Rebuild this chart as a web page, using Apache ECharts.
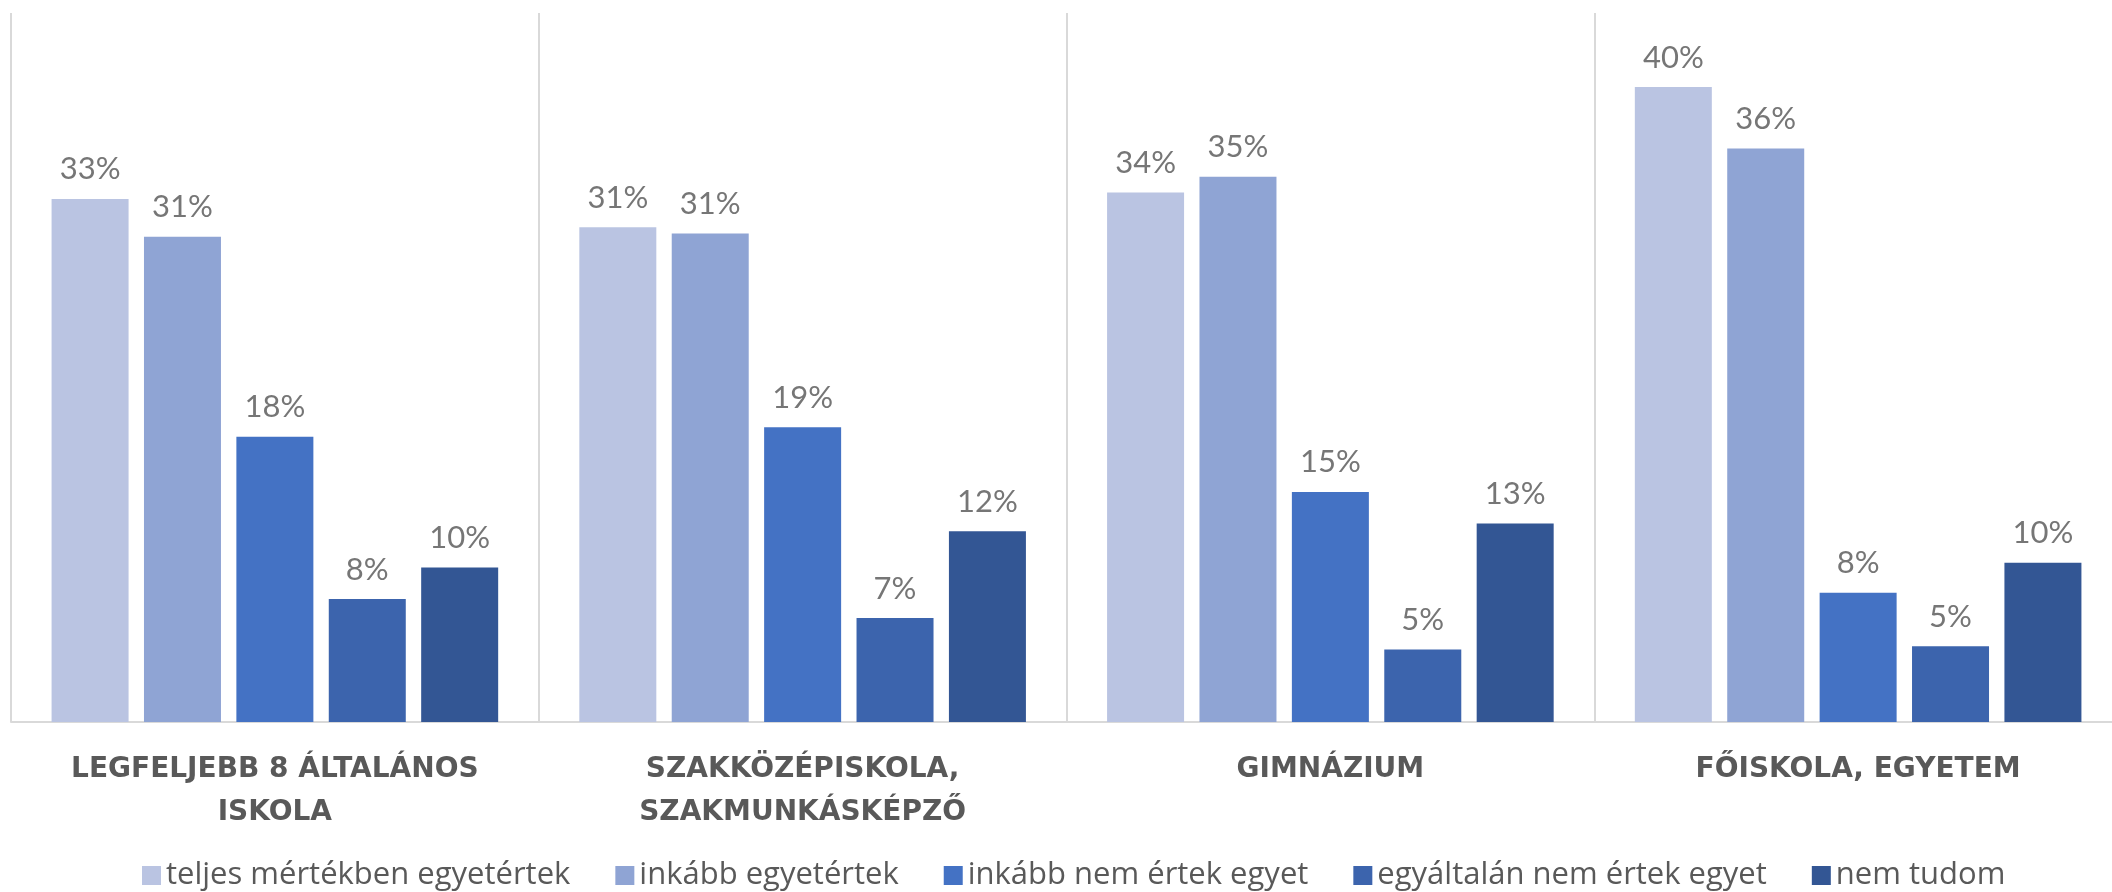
<!DOCTYPE html>
<html>
<head>
<meta charset="utf-8">
<script src="https://cdn.jsdelivr.net/npm/echarts@6.0.0/dist/echarts.min.js"></script>
<style>
  html, body { margin: 0; padding: 0; background: #fff; }
  #chart { width: 2112px; height: 892px; }
</style>
</head>
<body>
<div id="chart"></div>
<script>
// iskolai végzettség szerinti megoszlás (%)
const categories = ['LEGFELJEBB 8 ÁLTALÁNOS\nISKOLA', 'SZAKKÖZÉPISKOLA,\nSZAKMUNKÁSKÉPZŐ', 'GIMNÁZIUM', 'FŐISKOLA, EGYETEM']
const seriesNames = ['teljes mértékben egyetértek', 'inkább egyetértek', 'inkább nem értek egyet', 'egyáltalán nem értek egyet', 'nem tudom']
const teljesen = [33.2, 31.4, 33.6, 40.3]
const inkabb = [30.8, 31.0, 34.6, 36.4]
const inkabbNem = [18.1, 18.7, 14.6, 8.2]
const egyaltalanNem = [7.8, 6.6, 4.6, 4.8]
const nemTudom = [9.8, 12.1, 12.6, 10.1]

const colors = ['#BAC4E2', '#8FA4D4', '#4472C4', '#3C64AD', '#335694']
const values = [teljesen, inkabb, inkabbNem, egyaltalanNem, nemTudom]

let chart = echarts.init(document.getElementById('chart'))

let series = seriesNames.map(function (name, i) {
  return {
    name: name,
    type: 'bar',
    barWidth: 77,
    barGap: '20%',
    itemStyle: { color: colors[i] },
    label: {
      show: true,
      position: 'top',
      distance: 14,
      color: '#767676',
      fontFamily: 'Lato',
      fontSize: 31,
      formatter: function (p) {
        return Math.round(p.value) + '%'
      }
    },
    data: values[i]
  }
})

let option = {
  animation: false,
  color: colors,
  grid: {
    left: 11,
    right: -10,
    top: 13,
    bottom: 170,
    outerBoundsMode: 'none'
  },
  legend: {
    left: 137,
    top: 855,
    itemWidth: 19,
    itemHeight: 19,
    itemGap: 45,
    icon: 'rect',
    textStyle: {
      color: '#595959',
      fontFamily: 'Open Sans',
      fontSize: 31
    },
    data: seriesNames
  },
  xAxis: {
    type: 'category',
    data: categories,
    axisTick: { show: false },
    axisLine: {
      lineStyle: { color: '#d9d9d9', width: 2 }
    },
    splitLine: {
      show: true,
      interval: 0,
      lineStyle: { color: '#d9d9d9', width: 2 }
    },
    axisLabel: {
      interval: 0,
      margin: 26,
      color: '#595959',
      fontFamily: 'DejaVu Sans',
      fontWeight: 'bold',
      fontSize: 28,
      lineHeight: 43
    }
  },
  yAxis: {
    type: 'value',
    min: 0,
    max: 45,
    show: false,
    splitLine: { show: false }
  },
  series: series
}

chart.setOption(option)
</script>
</body>
</html>
